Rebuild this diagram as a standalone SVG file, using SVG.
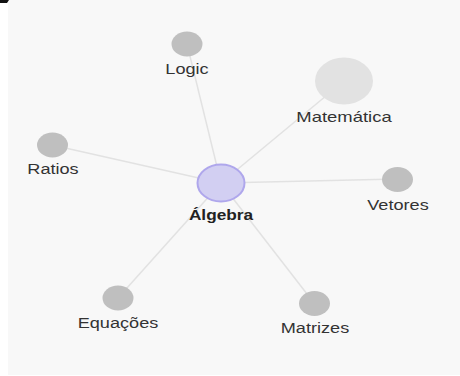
<svg xmlns="http://www.w3.org/2000/svg" width="460" height="376" viewBox="0 0 460 376">
<style>
.bg{fill:#f8f8f8}
.link{stroke:#e2e2e2;stroke-width:1.5;fill:none}
.leaf{fill:#bfbfbf}
.hub{fill:#e2e2e2}
.main{fill:#d2cff2;stroke:#afa7ec;stroke-width:2}
text{font-family:"Liberation Sans",Arial,sans-serif;font-size:15px;fill:#333;text-anchor:middle}
.bold{font-weight:bold;fill:#222}
</style>
<rect x="0" y="0" width="460" height="376" fill="#ffffff"/>
<rect class="bg" x="8" y="0" width="452" height="375"/>
<path d="M0 0 H9 L7 3 H0 Z" fill="#111"/>
<g id="links">
<line class="link" x1="221" y1="183" x2="187" y2="44"/>
<line class="link" x1="221" y1="183" x2="344" y2="81"/>
<line class="link" x1="221" y1="183" x2="52" y2="145"/>
<line class="link" x1="221" y1="183" x2="397" y2="179"/>
<line class="link" x1="221" y1="183" x2="118" y2="298"/>
<line class="link" x1="221" y1="183" x2="314" y2="303"/>
</g>
<g id="logic">
<ellipse class="leaf" cx="187" cy="44" rx="15.5" ry="12.5"/>
<text transform="translate(187 74) scale(1.21 1)">Logic</text>
</g>
<g id="matematica">
<ellipse class="hub" cx="344" cy="81" rx="29" ry="23.5"/>
<text transform="translate(344 121.5) scale(1.23 1)">Matemática</text>
</g>
<g id="ratios">
<ellipse class="leaf" cx="52.5" cy="145" rx="15.5" ry="12.5"/>
<text transform="translate(53 174) scale(1.21 1)">Ratios</text>
</g>
<g id="algebra">
<ellipse class="main" cx="221" cy="183" rx="23.5" ry="18.5"/>
<text class="bold" transform="translate(221 220) scale(1.15 1)">Álgebra</text>
</g>
<g id="vetores">
<ellipse class="leaf" cx="397.5" cy="179.5" rx="15.5" ry="12.5"/>
<text transform="translate(398 209.5) scale(1.21 1)">Vetores</text>
</g>
<g id="equacoes">
<ellipse class="leaf" cx="118" cy="298" rx="15.5" ry="12.5"/>
<text transform="translate(118 327.5) scale(1.21 1)">Equações</text>
</g>
<g id="matrizes">
<ellipse class="leaf" cx="314.5" cy="303.5" rx="15.5" ry="12.5"/>
<text transform="translate(315 333) scale(1.21 1)">Matrizes</text>
</g>
</svg>
